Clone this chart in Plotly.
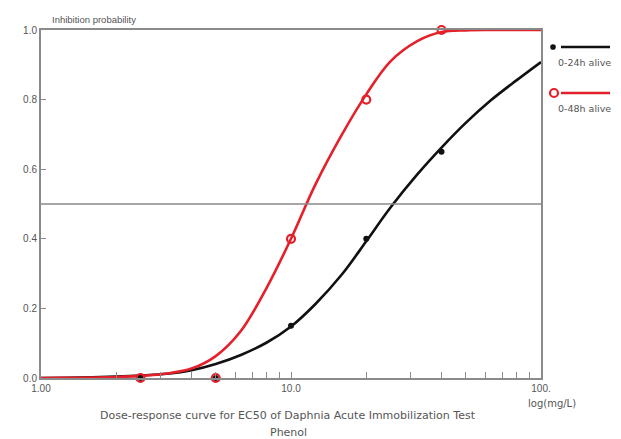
import plotly.graph_objects as go

# Observed inhibition (fraction immobilised) at each test concentration, mg/L
conc = [2.5, 5, 10, 20, 40]
inhib_24h = [0.0, 0.0, 0.15, 0.40, 0.65]
inhib_48h = [0.0, 0.0, 0.40, 0.80, 1.00]

# Fitted dose-response curves, sampled on an R10 concentration series
curve_conc = [1, 1.25, 1.6, 2, 2.5, 3.2, 4, 5, 6.3, 8, 10, 12.5, 16, 20, 25,
              32, 40, 50, 63, 80, 100]
curve_24h = [0.0, 0.0005, 0.002, 0.004, 0.007, 0.012, 0.022, 0.04, 0.066, 0.102,
             0.148, 0.212, 0.298, 0.393, 0.49, 0.585, 0.662, 0.733, 0.798,
             0.856, 0.908]
curve_48h = [0.0, 0.0005, 0.0015, 0.003, 0.006, 0.013, 0.027, 0.063, 0.135,
             0.26, 0.40, 0.555, 0.70, 0.815, 0.91, 0.968, 0.994, 0.999, 1.0,
             1.0, 1.0]

EC50_LEVEL = 0.5
y_ticks = [0.0, 0.2, 0.4, 0.6, 0.8, 1.0]
x_major = {1: "1.00", 10: "10.0", 100: "100."}
x_ticks = [1, 2, 3, 4, 5, 6, 7, 8, 9, 10, 20, 30, 40, 50, 60, 70, 80, 90, 100]

series_names = ["0-24h alive", "0-48h alive"]
RED = "#e4202a"
BLACK = "#111111"
AXIS = "#8a8a8a"
TEXT = "#555555"
FONT = "Liberation Sans, Arial, sans-serif"
WIDE = "DejaVu Sans, Verdana, sans-serif"

fig = go.Figure()

fig.add_trace(go.Scatter(x=curve_conc, y=curve_24h, mode="lines",
                         line=dict(color=BLACK, width=2.6, shape="spline"),
                         showlegend=False, hoverinfo="skip"))
fig.add_trace(go.Scatter(x=curve_conc, y=curve_48h, mode="lines",
                         line=dict(color=RED, width=2.6, shape="spline"),
                         showlegend=False, hoverinfo="skip"))
fig.add_trace(go.Scatter(x=conc, y=inhib_24h, mode="markers",
                         marker=dict(color=BLACK, size=6),
                         cliponaxis=False, showlegend=False))
fig.add_trace(go.Scatter(x=conc, y=inhib_48h, mode="markers",
                         marker=dict(symbol="circle-open", color=RED, size=8,
                                     line=dict(width=2.2, color=RED)),
                         cliponaxis=False, showlegend=False))

# 50 % reference line
fig.add_shape(type="line", xref="paper", x0=0, x1=1, yref="y",
              y0=EC50_LEVEL, y1=EC50_LEVEL, line=dict(color=AXIS, width=1.3))

# Hand-drawn legend to the right of the plot
legend_rows = [
    (0.951, 0.906, BLACK, "dot"),
    (0.819, 0.774, RED, "ring"),
]
for (ly, ty, col, kind), name in zip(legend_rows, series_names):
    fig.add_shape(type="line", xref="paper", yref="paper",
                  x0=1.040, x1=1.138, y0=ly, y1=ly,
                  line=dict(color=col, width=2.6))
    if kind == "dot":
        fig.add_shape(type="circle", xref="paper", yref="paper",
                      xsizemode="pixel", ysizemode="pixel",
                      xanchor=1.024, yanchor=ly, x0=-2.8, x1=2.8, y0=-2.8, y1=2.8,
                      fillcolor=col, line=dict(width=0))
    else:
        fig.add_shape(type="circle", xref="paper", yref="paper",
                      xsizemode="pixel", ysizemode="pixel",
                      xanchor=1.026, yanchor=ly, x0=-4, x1=4, y0=-4, y1=4,
                      fillcolor="white", line=dict(color=col, width=2.2))
    fig.add_annotation(text=name, xref="paper", yref="paper", x=1.030, y=ty,
                       xanchor="left", yanchor="middle", showarrow=False,
                       font=dict(family=WIDE, size=9.5, color=TEXT))

fig.add_annotation(text="Inhibition probability", xref="paper", yref="paper",
                   x=0.018, y=1.029, xanchor="left", yanchor="middle",
                   showarrow=False, font=dict(family=FONT, size=9.5, color=TEXT))
fig.add_annotation(text="log(mg/L)", xref="paper", yref="paper",
                   x=1.074, y=-0.072, xanchor="right", yanchor="middle",
                   showarrow=False, font=dict(family=WIDE, size=10, color=TEXT))
fig.add_annotation(text="Dose-response curve for EC50 of Daphnia Acute Immobilization Test",
                   xref="paper", yref="paper", x=0.494, y=-0.109,
                   xanchor="center", yanchor="middle", showarrow=False,
                   font=dict(family=WIDE, size=11, color=TEXT))
fig.add_annotation(text="Phenol", xref="paper", yref="paper", x=0.494, y=-0.158,
                   xanchor="center", yanchor="middle", showarrow=False,
                   font=dict(family=WIDE, size=11, color=TEXT))

fig.update_xaxes(type="log", range=[0, 2], showgrid=False, zeroline=False,
                 showline=True, linecolor=AXIS, linewidth=2, mirror=True,
                 ticks="inside", ticklen=6, tickcolor=AXIS, tickwidth=1,
                 tickvals=x_ticks,
                 ticktext=[x_major.get(v, "") for v in x_ticks],
                 tickfont=dict(family=FONT, size=10, color=TEXT))
fig.update_yaxes(range=[0, 1], showgrid=False, zeroline=False,
                 showline=True, linecolor=AXIS, linewidth=2, mirror=True,
                 ticks="inside", ticklen=5, tickcolor=AXIS, tickwidth=1,
                 tickvals=y_ticks, ticktext=[f"{v:.1f}" for v in y_ticks],
                 tickfont=dict(family=FONT, size=10, color=TEXT))

fig.update_layout(width=621, height=439,
                  margin=dict(l=41, r=80, t=30, b=61),
                  paper_bgcolor="white", plot_bgcolor="white",
                  showlegend=False)

fig.write_html("out.html")
